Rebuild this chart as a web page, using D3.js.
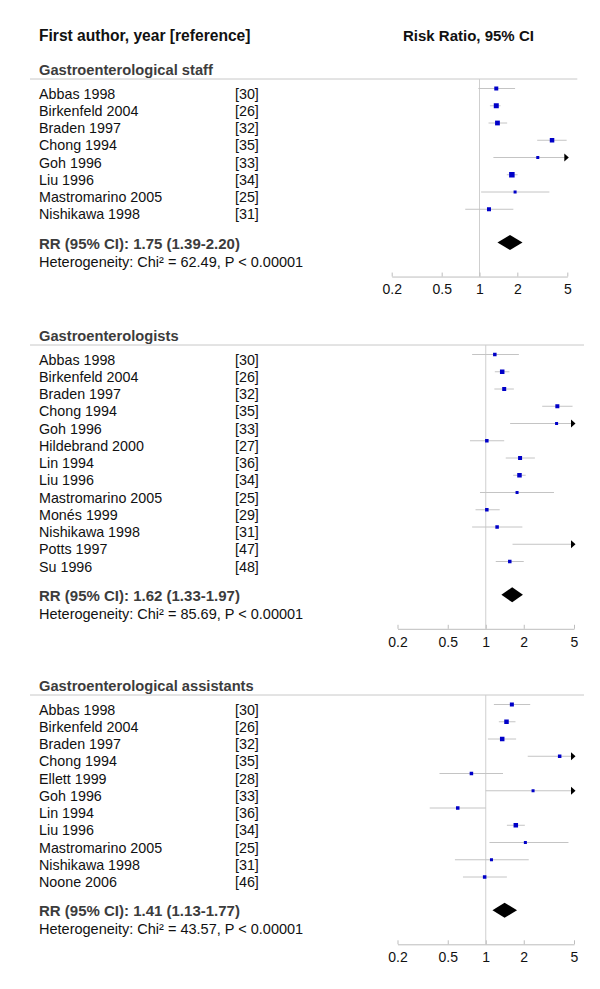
<!DOCTYPE html>
<html>
<head>
<meta charset="utf-8">
<script src="https://cdn.jsdelivr.net/npm/d3@7"></script>
<style>
  body { margin: 0; background: #fff; }
  text { font-family: "Liberation Sans", Arial, sans-serif; }
</style>
</head>
<body>
<div id="chart"></div>
<script>
// Data
const staffStudies = ["Abbas 1998", "Birkenfeld 2004", "Braden 1997", "Chong 1994", "Goh 1996", "Liu 1996", "Mastromarino 2005", "Nishikawa 1998"];
const staffRefs = ["[30]", "[26]", "[32]", "[35]", "[33]", "[34]", "[25]", "[31]"];
const staffRR = [1.36, 1.36, 1.39, 3.78, 2.91, 1.81, 1.92, 1.19];
const staffLower = [0.98, 1.21, 1.18, 2.88, 1.29, 1.65, 1.03, 0.77];
const staffUpper = [1.92, 1.47, 1.66, 4.94, 7.5, 2.01, 3.60, 1.86];
const staffWeight = [10.6, 16.5, 15, 13.4, 6, 20, 6, 10.6];
const staffPooled = [1.75, 1.39, 2.20];
const staffHet = "Heterogeneity: Chi² = 62.49, P < 0.00001";

const gastroStudies = ["Abbas 1998", "Birkenfeld 2004", "Braden 1997", "Chong 1994", "Goh 1996", "Hildebrand 2000", "Lin 1994", "Liu 1996", "Mastromarino 2005", "Monés 1999", "Nishikawa 1998", "Potts 1997", "Su 1996"];
const gastroRefs = ["[30]", "[26]", "[32]", "[35]", "[33]", "[27]", "[36]", "[34]", "[25]", "[29]", "[31]", "[47]", "[48]"];
const gastroRR = [1.18, 1.35, 1.40, 3.69, 3.64, 1.02, 1.87, 1.85, 1.77, 1.02, 1.23, 7.0, 1.55];
const gastroLower = [0.78, 1.18, 1.17, 2.80, 1.56, 0.75, 1.44, 1.65, 0.90, 0.83, 0.78, 1.63, 1.20];
const gastroUpper = [1.83, 1.54, 1.67, 4.87, 9.0, 1.40, 2.45, 2.07, 3.47, 1.29, 1.95, 30.0, 2.00];
const gastroWeight = [8.1, 13.4, 10.6, 10.6, 6, 8.1, 10.6, 13.4, 6, 8.1, 8.1, 2, 8.1];
const gastroPooled = [1.62, 1.33, 1.97];
const gastroHet = "Heterogeneity: Chi² = 85.69, P < 0.00001";

const assistStudies = ["Abbas 1998", "Birkenfeld 2004", "Braden 1997", "Chong 1994", "Ellett 1999", "Goh 1996", "Lin 1994", "Liu 1996", "Mastromarino 2005", "Nishikawa 1998", "Noone 2006"];
const assistRefs = ["[30]", "[26]", "[32]", "[35]", "[28]", "[33]", "[36]", "[34]", "[25]", "[31]", "[46]"];
const assistRR = [1.61, 1.46, 1.35, 3.85, 0.77, 2.37, 0.60, 1.73, 2.06, 1.11, 0.98];
const assistLower = [1.16, 1.27, 1.04, 2.15, 0.43, 1.00, 0.36, 1.47, 1.07, 0.57, 0.66];
const assistUpper = [2.25, 1.72, 1.74, 8.0, 1.37, 9.0, 1.00, 2.04, 4.52, 2.19, 1.47];
const assistWeight = [10.6, 13.4, 13.4, 8.1, 8.1, 6, 8.1, 13.4, 6, 6, 8.1];
const assistPooled = [1.41, 1.13, 1.77];
const assistHet = "Heterogeneity: Chi² = 43.57, P < 0.00001";

const tickValues = [0.2, 0.5, 1, 2, 5];

function makeRows(names, refs, rr, lo, hi, w) {
    return names.map(function(n, i) {
        return {name: n, ref: refs[i], rr: rr[i], lo: lo[i], hi: hi[i], w: w[i]};
    });
}

const groups = [
    {title: "Gastroenterological staff", rows: makeRows(staffStudies, staffRefs, staffRR, staffLower, staffUpper, staffWeight),
     pooled: staffPooled, het: staffHet, top: 79, x0: 391.7, x1: 567.3},
    {title: "Gastroenterologists", rows: makeRows(gastroStudies, gastroRefs, gastroRR, gastroLower, gastroUpper, gastroWeight),
     pooled: gastroPooled, het: gastroHet, top: 345, x0: 397.5, x1: 574},
    {title: "Gastroenterological assistants", rows: makeRows(assistStudies, assistRefs, assistRR, assistLower, assistUpper, assistWeight),
     pooled: assistPooled, het: assistHet, top: 695, x0: 397.5, x1: 574}
];

const width = 600, height = 989;
const rowStep = 17.25;
const boxSize = d3.scaleSqrt().domain([0, 20]).range([0, 5.5]);

const svg = d3.select("#chart").append("svg")
    .attr("width", width)
    .attr("height", height);

// column headers
svg.append("text").attr("x", 39).attr("y", 41)
    .attr("font-size", 15.6).attr("font-weight", "bold").attr("fill", "#111")
    .text("First author, year [reference]");
svg.append("text").attr("x", 403).attr("y", 41)
    .attr("font-size", 15).attr("font-weight", "bold").attr("fill", "#111")
    .text("Risk Ratio, 95% CI");

groups.forEach(function(g) {
    const x = d3.scaleLog().domain([0.2, 5]).range([g.x0, g.x1]);
    const gEl = svg.append("g");
    const firstY = g.top + 9.5;
    const y = function(i) { return firstY + i * rowStep; };
    const diamondY = y(g.rows.length - 1) + 33.3;
    const axisY = diamondY + 34;

    gEl.append("line")
        .attr("x1", 30).attr("x2", g.x1 + 10)
        .attr("y1", g.top).attr("y2", g.top)
        .attr("stroke", "#c8c8c8").attr("stroke-width", 1);

    gEl.append("text").attr("x", 39).attr("y", g.top - 4)
        .attr("font-size", 14.7).attr("font-weight", "bold").attr("fill", "#3c3c3c")
        .text(g.title);

    // line of no effect
    gEl.append("line")
        .attr("x1", x(1)).attr("x2", x(1))
        .attr("y1", g.top).attr("y2", axisY)
        .attr("stroke", "#cfcfcf").attr("stroke-width", 1);

    const rows = gEl.selectAll("g.row")
        .data(g.rows)
        .enter()
        .append("g")
        .attr("class", "row");

    rows.append("text")
        .attr("x", 39).attr("y", function(d, i) { return y(i) + 10; })
        .attr("font-size", 14.3).attr("fill", "#111")
        .text(function(d) { return d.name; });

    rows.append("text")
        .attr("x", 235).attr("y", function(d, i) { return y(i) + 10; })
        .attr("font-size", 14.3).attr("fill", "#111")
        .text(function(d) { return d.ref; });

    rows.append("line")
        .attr("x1", function(d) { return x(Math.max(d.lo, 0.2)); })
        .attr("x2", function(d) { return x(Math.min(d.hi, 5)); })
        .attr("y1", function(d, i) { return y(i); })
        .attr("y2", function(d, i) { return y(i); })
        .attr("stroke", "#c4c4c4").attr("stroke-width", 1);

    rows.filter(function(d) { return d.rr <= 5 && d.rr >= 0.2; })
        .append("rect")
        .attr("x", function(d) { return x(d.rr) - boxSize(d.w) / 2; })
        .attr("y", function(d) { return y(g.rows.indexOf(d)) - boxSize(d.w) / 2; })
        .attr("width", function(d) { return boxSize(d.w); })
        .attr("height", function(d) { return boxSize(d.w); })
        .attr("fill", "#0000c8");

    rows.filter(function(d) { return d.hi > 5; })
        .append("path")
        .attr("d", function(d) {
            const cy = y(g.rows.indexOf(d)), cx = x(5);
            return "M" + (cx - 3) + "," + (cy - 4) + "L" + (cx + 1.5) + "," + cy + "L" + (cx - 3) + "," + (cy + 4) + "Z";
        })
        .attr("fill", "#000");

    // pooled diamond
    const p = g.pooled;
    gEl.append("path")
        .attr("d", "M" + x(p[1]) + "," + diamondY +
                   "L" + x(p[0]) + "," + (diamondY - 7.5) +
                   "L" + x(p[2]) + "," + diamondY +
                   "L" + x(p[0]) + "," + (diamondY + 7.5) + "Z")
        .attr("fill", "#000");

    gEl.append("text").attr("x", 39).attr("y", diamondY + 6)
        .attr("font-size", 15).attr("font-weight", "bold").attr("fill", "#3c3c3c")
        .text("RR (95% CI): " + p[0].toFixed(2) + " (" + p[1].toFixed(2) + "-" + p[2].toFixed(2) + ")");
    gEl.append("text").attr("x", 39).attr("y", diamondY + 24)
        .attr("font-size", 14.5).attr("fill", "#111")
        .text(g.het);

    // axis
    const axis = d3.axisBottom(x)
        .tickValues(tickValues)
        .tickFormat(function(d) { return String(d); })
        .tickSizeInner(-4)
        .tickSizeOuter(0)
        .tickPadding(8);

    const ax = gEl.append("g")
        .attr("transform", "translate(0," + axisY + ")")
        .call(axis);
    ax.select(".domain").attr("stroke", "#bdbdbd");
    ax.selectAll(".tick line").attr("stroke", "#bdbdbd");
    ax.selectAll(".tick text")
        .attr("font-size", 14)
        .attr("font-family", "Liberation Sans, Arial, sans-serif")
        .attr("fill", "#111");
});
</script>
</body>
</html>
